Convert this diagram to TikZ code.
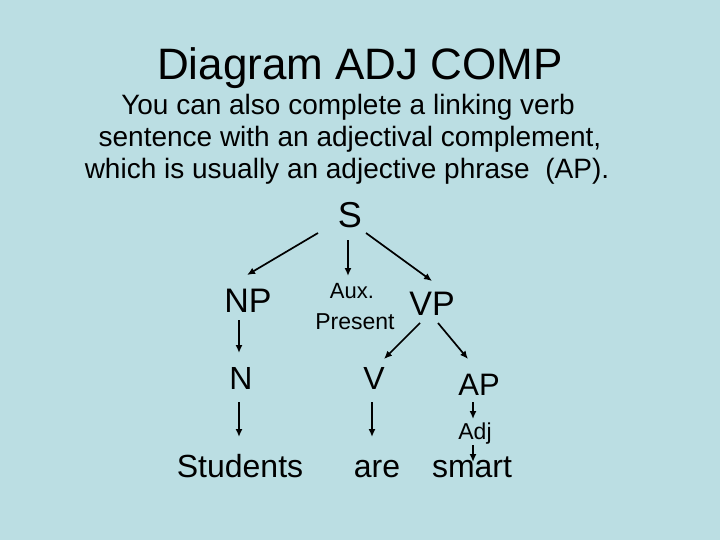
\documentclass[tikz,border=0pt]{standalone}
\usepackage{fontspec}
\setmainfont{Liberation Sans}
\usetikzlibrary{arrows.meta}

\definecolor{slidebg}{RGB}{187,222,227}
\def \arrowTip {{Latex[length=8pt,width=7pt]}}

\tikzset{
  word/.style={anchor=base, inner sep=0pt},
  arr/.style={-\arrowTip, line width=1.7pt},
}

\newcommand{\fs}[1]{\fontsize{#1}{#1}\selectfont}

\begin{document}
\begin{tikzpicture}[x=1pt, y=-1pt]
      \fill[slidebg] (0,0) rectangle (720,540);
      \useasboundingbox (0,0) rectangle (720,540);
      % heading
      \node[word] (title) at (360,80) {\fs{44}Diagram ADJ COMP};
      \node[word] (line1) at (348,115) {\fs{28}You can also complete a linking verb};
      \node[word] (line2) at (350,147) {\fs{28}sentence with an adjectival complement,};
      \node[word] (line3) at (347,179) {\fs{28}which is usually an adjective phrase\ \ (AP).};
      % tree
      \node[word] (s) at (350,227) {\fs{36}S};
      \node[word] (np) at (248,312) {\fs{34}NP};
      \node[word] (aux) at (352,298) {\fs{22}Aux.};
      \node[word] (present) at (355,329) {\fs{23}Present};
      \node[word] (vp) at (432,315) {\fs{34}VP};
      \node[word] (n) at (241,389) {\fs{32}N};
      \node[word] (v) at (374,389) {\fs{32}V};
      \node[word] (ap) at (479,395) {\fs{31}AP};
      \node[word] (adj) at (475,439) {\fs{23}Adj};
      \node[word] (students) at (240,477) {\fs{32}Students};
      \node[word] (are) at (377,477) {\fs{32}are};
      \node[word] (smart) at (472,477) {\fs{32}smart};
      % branches
      \draw[arr] ([shift={(-32,6)}]s.base) -- ([shift={(-1,-37)}]np.base);
      \draw[arr] ([shift={(-2,13)}]s.base) -- ([shift={(-4,-22)}]aux.base);
      \draw[arr] ([shift={(16,6)}]s.base) -- ([shift={(0,-34)}]vp.base);
      \draw[arr] ([shift={(-12,8)}]vp.base) -- ([shift={(10,-30)}]v.base);
      \draw[arr] ([shift={(6,8)}]vp.base) -- ([shift={(-11,-36)}]ap.base);
      \draw[arr] ([shift={(-9,8)}]np.base) -- ([shift={(-2,-36)}]n.base);
      \draw[arr] ([shift={(-2,13)}]n.base) -- ([shift={(-1,-40)}]students.base);
      \draw[arr] ([shift={(-2,13)}]v.base) -- ([shift={(-5,-40)}]are.base);
      \draw[arr] ([shift={(-6,7)}]ap.base) -- ([shift={(-2,-20)}]adj.base);
      \draw[arr] ([shift={(-2,6)}]adj.base) -- ([shift={(1,-15)}]smart.base);
   \end{tikzpicture}
\end{document}
